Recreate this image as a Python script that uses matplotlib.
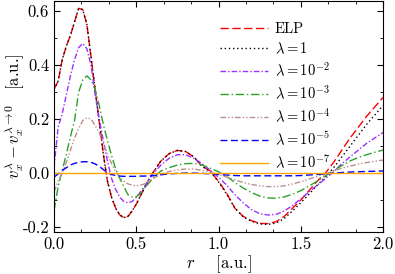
import matplotlib
matplotlib.use("Agg")
import matplotlib.pyplot as plt
from matplotlib.ticker import MultipleLocator, AutoMinorLocator

# === Style ===
plt.rcParams["font.family"] = "serif"
plt.rcParams["font.serif"] = ["cmr10"]
plt.rcParams["mathtext.fontset"] = "cm"
plt.rcParams["axes.unicode_minus"] = False
plt.rcParams["font.size"] = 12

# === Data ===
r = [0.000, 0.025, 0.050, 0.075, 0.100, 0.125, 0.150, 0.175, 0.200, 0.225,
     0.250, 0.275, 0.300, 0.325, 0.350, 0.375, 0.400, 0.425, 0.450, 0.475,
     0.500, 0.525, 0.550, 0.575, 0.600, 0.65, 0.70, 0.75, 0.80, 0.85,
     0.90, 0.95, 1.00, 1.05, 1.10, 1.15, 1.20, 1.25, 1.30, 1.35,
     1.40, 1.45, 1.50, 1.55, 1.60, 1.65, 1.70, 1.75, 1.80, 1.85,
     1.90, 1.95, 2.00]

elp = [0.31, 0.34, 0.42, 0.47, 0.51, 0.56, 0.61, 0.605, 0.55, 0.43,
       0.31, 0.19, 0.07, -0.03, -0.09, -0.13, -0.155, -0.165, -0.16, -0.14,
       -0.115, -0.085, -0.055, -0.025, 0.0, 0.045, 0.072, 0.084, 0.08, 0.06,
       0.025, 0.008, -0.03, -0.075, -0.13, -0.16, -0.176, -0.186, -0.187, -0.18,
       -0.16, -0.13, -0.10, -0.065, -0.03, 0.0, 0.04, 0.085, 0.13, 0.17,
       0.21, 0.245, 0.28]

lam_1 = [0.31, 0.34, 0.42, 0.47, 0.51, 0.56, 0.61, 0.605, 0.55, 0.43,
         0.31, 0.19, 0.07, -0.03, -0.09, -0.13, -0.155, -0.165, -0.16, -0.14,
         -0.115, -0.085, -0.055, -0.025, 0.0, 0.045, 0.072, 0.084, 0.08, 0.06,
         0.025, 0.006, -0.032, -0.078, -0.13, -0.162, -0.178, -0.188, -0.19, -0.185,
         -0.168, -0.14, -0.11, -0.078, -0.045, -0.015, 0.02, 0.06, 0.10, 0.14,
         0.18, 0.215, 0.25]

lam_1e2 = [0.02, 0.17, 0.22, 0.29, 0.36, 0.42, 0.465, 0.48, 0.46, 0.40,
           0.29, 0.20, 0.12, 0.045, -0.02, -0.06, -0.09, -0.105, -0.11, -0.105,
           -0.09, -0.07, -0.05, -0.025, -0.005, 0.03, 0.055, 0.068, 0.068, 0.055,
           0.035, 0.01, -0.015, -0.045, -0.08, -0.11, -0.135, -0.15, -0.155, -0.153,
           -0.14, -0.12, -0.095, -0.07, -0.045, -0.02, 0.005, 0.035, 0.06, 0.085,
           0.11, 0.13, 0.15]

lam_1e3 = [-0.14, -0.05, 0.01, 0.07, 0.135, 0.195, 0.30, 0.345, 0.36, 0.345,
           0.31, 0.25, 0.18, 0.12, 0.065, 0.015, -0.02, -0.05, -0.08, -0.088,
           -0.088, -0.075, -0.055, -0.038, -0.02, 0.008, 0.02, 0.03, 0.035, 0.036,
           0.03, 0.018, 0.005, -0.012, -0.035, -0.055, -0.072, -0.085, -0.092, -0.093,
           -0.088, -0.078, -0.065, -0.048, -0.03, -0.01, 0.01, 0.028, 0.045, 0.058,
           0.068, 0.077, 0.085]

lam_1e4 = [-0.07, -0.03, 0.0, 0.04, 0.085, 0.13, 0.165, 0.195, 0.205, 0.20,
           0.176, 0.15, 0.11, 0.07, 0.035, 0.005, -0.015, -0.03, -0.04, -0.045,
           -0.047, -0.045, -0.04, -0.03, -0.02, -0.005, 0.006, 0.012, 0.015, 0.015,
           0.01, 0.003, -0.005, -0.015, -0.025, -0.035, -0.042, -0.047, -0.05, -0.05,
           -0.047, -0.04, -0.032, -0.022, -0.012, -0.002, 0.008, 0.018, 0.026, 0.033,
           0.039, 0.044, 0.048]

lam_1e5 = [-0.015, -0.003, 0.01, 0.02, 0.03, 0.036, 0.04, 0.042, 0.042, 0.04,
           0.034, 0.025, 0.013, 0.002, -0.005, -0.009, -0.011, -0.012, -0.012, -0.012,
           -0.012, -0.011, -0.011, -0.010, -0.010, -0.006, -0.003, -0.001, 0.0, 0.0,
           -0.001, -0.003, -0.005, -0.007, -0.009, -0.010, -0.010, -0.010, -0.010, -0.010,
           -0.010, -0.010, -0.009, -0.007, -0.005, -0.003, 0.0, 0.002, 0.004, 0.005,
           0.006, 0.007, 0.008]

lam_1e7 = [0.0] * len(r)

# === Plot ===
fig = plt.figure(figsize=(3.95, 2.74), dpi=100)
ax = fig.add_axes([54/395, 42/274, 329/395, 231/274])

ax.plot(r, elp, color="#ff0000", lw=1.0, dashes=(6, 2.5), label="ELP")
ax.plot(r, lam_1, color="black", lw=1.0, dashes=(1, 2), label=r"$\lambda = 1$")
ax.plot(r, lam_1e2, color="#9b30ff", lw=1.0, dashes=(4, 1.5, 1, 1.5), label=r"$\lambda = 10^{-2}$")
ax.plot(r, lam_1e3, color="#2ca02c", lw=1.0, dashes=(6, 2, 1, 2), label=r"$\lambda = 10^{-3}$")
ax.plot(r, lam_1e4, color="#bc8f8f", lw=1.0, dashes=(4, 1.5, 1, 1.5, 1, 1.5), label=r"$\lambda = 10^{-4}$")
ax.plot(r, lam_1e5, color="#0000ff", lw=1.0, dashes=(5, 2.5), label=r"$\lambda = 10^{-5}$")
ax.plot(r, lam_1e7, color="#ffa500", lw=1.0, label=r"$\lambda = 10^{-7}$")

ax.set_xlim(0, 2)
ax.set_ylim(-0.218, 0.637)
ax.xaxis.set_major_locator(MultipleLocator(0.5))
ax.xaxis.set_minor_locator(AutoMinorLocator(3))
ax.yaxis.set_major_locator(MultipleLocator(0.2))
ax.yaxis.set_minor_locator(AutoMinorLocator(2))
ax.tick_params(which="both", direction="in", top=True, right=True)
ax.tick_params(which="major", length=4)
ax.tick_params(which="minor", length=2.5)

ax.set_xlabel(r"$r$" + "    [a.u.]")
ax.xaxis.set_label_coords(0.5, -0.092)
ax.set_ylabel(r"$v_x^{\lambda} - v_x^{\lambda\to 0}\quad$[a.u.]")
ax.yaxis.set_label_coords(-0.083, 0.5)

ax.legend(loc="upper left", bbox_to_anchor=(220/395, 1 - 22/274),
          bbox_transform=fig.transFigure, frameon=False, fontsize=10.5,
          handlelength=3.3, handletextpad=0.45, labelspacing=0.33,
          borderpad=0, borderaxespad=0)

fig.savefig("out.png", dpi=100)
